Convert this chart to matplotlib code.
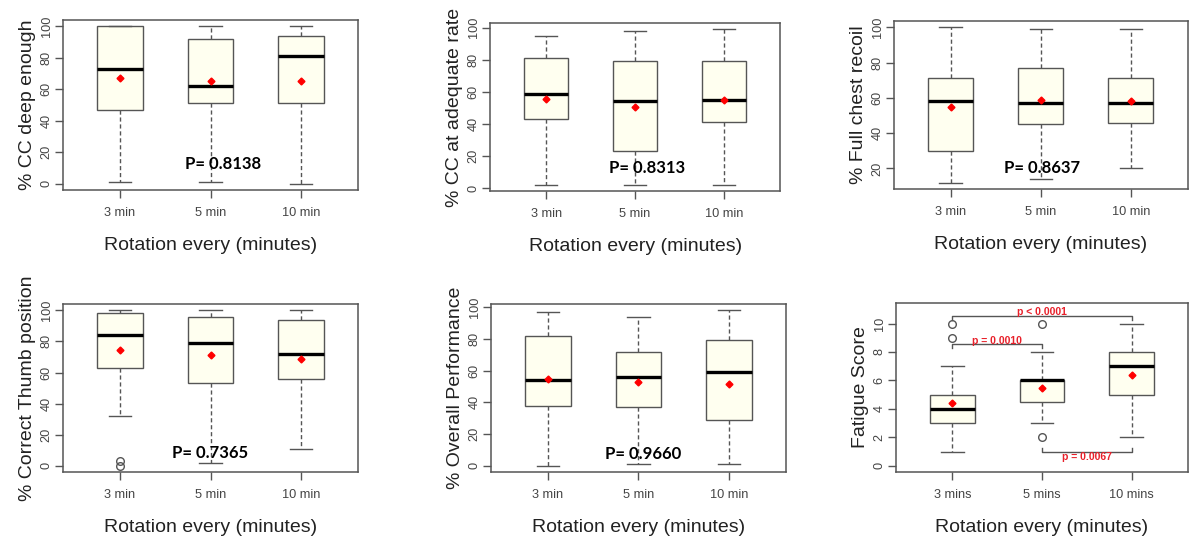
import matplotlib
matplotlib.use("Agg")
import matplotlib.pyplot as plt

plt.rcParams['font.family'] = ['Liberation Sans', 'DejaVu Sans']

# ---- data (whislo, q1, median, q3, whishi) ----
groups_min = ["3 min", "5 min", "10 min"]
groups_mins = ["3 mins", "5 mins", "10 mins"]

deep_box = [[1, 47, 73, 100, 100], [1, 51, 62, 92, 100], [0, 51, 81, 94, 100]]
deep_mean = [67.4, 65, 65]
deep_fliers = [[], [], []]

rate_box = [[2, 43, 58.5, 81, 95], [2, 23, 54, 79, 98], [2, 41, 55, 79, 99]]
rate_mean = [55.5, 50.5, 55]
rate_fliers = [[], [], []]

recoil_box = [[12, 30, 58, 71, 100], [14, 45, 57, 77, 99], [20, 46, 57, 71, 99]]
recoil_mean = [54.8, 59, 58]
recoil_fliers = [[], [], []]

thumb_box = [[32, 63, 84, 98, 100], [2, 53, 79, 96, 100], [11, 56, 72, 94, 100]]
thumb_mean = [74.3, 71.5, 68.5]
thumb_fliers = [[0, 3], [], []]

overall_box = [[0, 38, 54, 82, 97], [1, 37, 56, 72, 94], [1, 29, 59, 79, 98]]
overall_mean = [55, 53, 51.5]
overall_fliers = [[], [], []]

fatigue_box = [[1, 3, 4, 5, 7], [3, 4.5, 6, 6, 8], [2, 5, 7, 8, 10]]
fatigue_mean = [4.4, 5.5, 6.4]
fatigue_fliers = [[9, 10], [2, 10], []]

ylabels = ["% CC deep enough", "% CC at adequate rate", "% Full chest recoil",
           "% Correct Thumb position", "% Overall Performance", "Fatigue Score"]
p_texts = ["P= 0.8138", "P= 0.8313", "P= 0.8637", "P= 0.7365", "P= 0.9660"]
p_pos = [(2.14, 12.7), (2.13, 12.4), (2.01, 20.3), (2.0, 8.5), (2.05, 7.6)]

# fatigue pairwise comparisons: (x1, x2, bar y, leg y, label, label y)
fatigue_pairs = [(1, 3, 10.5, 10.25, "p < 0.0001", 10.8),
                 (1, 2, 8.55, 8.25, "p = 0.0010", 8.8),
                 (2, 3, 0.97, 1.25, "p = 0.0067", 0.6)]

panels = [
    (deep_box, deep_mean, deep_fliers, groups_min, None),
    (rate_box, rate_mean, rate_fliers, groups_min, None),
    (recoil_box, recoil_mean, recoil_fliers, groups_min, None),
    (thumb_box, thumb_mean, thumb_fliers, groups_min, None),
    (overall_box, overall_mean, overall_fliers, groups_min, None),
    (fatigue_box, fatigue_mean, fatigue_fliers, groups_mins, (0, 11)),
]

positions = [
    [0.0528, 0.647, 0.247, 0.316],
    [0.4104, 0.645, 0.243, 0.312],
    [0.7487, 0.649, 0.246, 0.312],
    [0.0528, 0.1227, 0.247, 0.312],
    [0.4112, 0.1227, 0.247, 0.312],
    [0.7504, 0.1227, 0.2446, 0.314],
]

EDGE = "#555555"
FILL = "#fffff0"

fig = plt.figure(figsize=(11.94, 5.38), dpi=100)

for i, (boxes, means, fliers, labels, yr) in enumerate(panels):
    ax = fig.add_axes(positions[i])
    stats = []
    for b, m, f, lab in zip(boxes, means, fliers, labels):
        stats.append(dict(whislo=b[0], q1=b[1], med=b[2], q3=b[3],
                          whishi=b[4], mean=m, fliers=f, label=lab))
    ax.bxp(stats, positions=[1, 2, 3], widths=0.5, patch_artist=True,
           showmeans=True, capwidths=0.25,
           boxprops=dict(facecolor=FILL, edgecolor=EDGE, linewidth=1),
           medianprops=dict(color="black", linewidth=2.4),
           whiskerprops=dict(color=EDGE, linestyle=(0, (3, 2)), linewidth=1),
           capprops=dict(color=EDGE, linewidth=1),
           flierprops=dict(marker="o", markerfacecolor="none",
                           markeredgecolor=EDGE, markersize=5.5),
           meanprops=dict(marker="D", markerfacecolor="red",
                          markeredgecolor="red", markersize=3.5))

    # R-style 4% expansion of the data range
    if yr is None:
        lo = min(min(b[0] for b in boxes), min([v for f in fliers for v in f] or [999]))
        hi = max(max(b[4] for b in boxes), max([v for f in fliers for v in f] or [-999]))
    else:
        lo, hi = yr
    pad = 0.04 * (hi - lo)
    ax.set_ylim(lo - pad, hi + pad)
    ax.set_xlim(0.37, 3.63)

    if i == 5:
        ax.set_yticks([0, 2, 4, 6, 8, 10])
    elif i == 2:
        ax.set_yticks([20, 40, 60, 80, 100])
    else:
        ax.set_yticks([0, 20, 40, 60, 80, 100])

    for sp in ax.spines.values():
        sp.set_color(EDGE)
        sp.set_linewidth(1.1)
    ax.tick_params(axis="both", colors=EDGE, labelcolor="#444444",
                   labelsize=9.2, length=6, width=1)
    ax.tick_params(axis="x", pad=6)
    ax.tick_params(axis="y", pad=1.5)
    for t in ax.get_yticklabels():
        t.set_rotation(90)
        t.set_va("center")

    ax.set_xlabel("Rotation every (minutes)", fontsize=14, color="#222222",
                  labelpad=13)
    ax.set_ylabel(ylabels[i], fontsize=14, color="#222222", labelpad=3)

    if i < 5:
        ax.text(p_pos[i][0], p_pos[i][1], p_texts[i], ha="center", va="center",
                fontsize=12, fontweight="bold", family=["Lato", "DejaVu Sans"],
                color="black")
    else:
        for x1, x2, yb, yl, lab, ty in fatigue_pairs:
            ax.plot([x1, x1, x2, x2], [yl, yb, yb, yl], color=EDGE, lw=1)
            ax.text((x1 + x2) / 2, ty, lab, ha="center", va="center",
                    fontsize=7.5, fontweight="bold", color="#e8202a")

fig.savefig("out.png", dpi=100)
